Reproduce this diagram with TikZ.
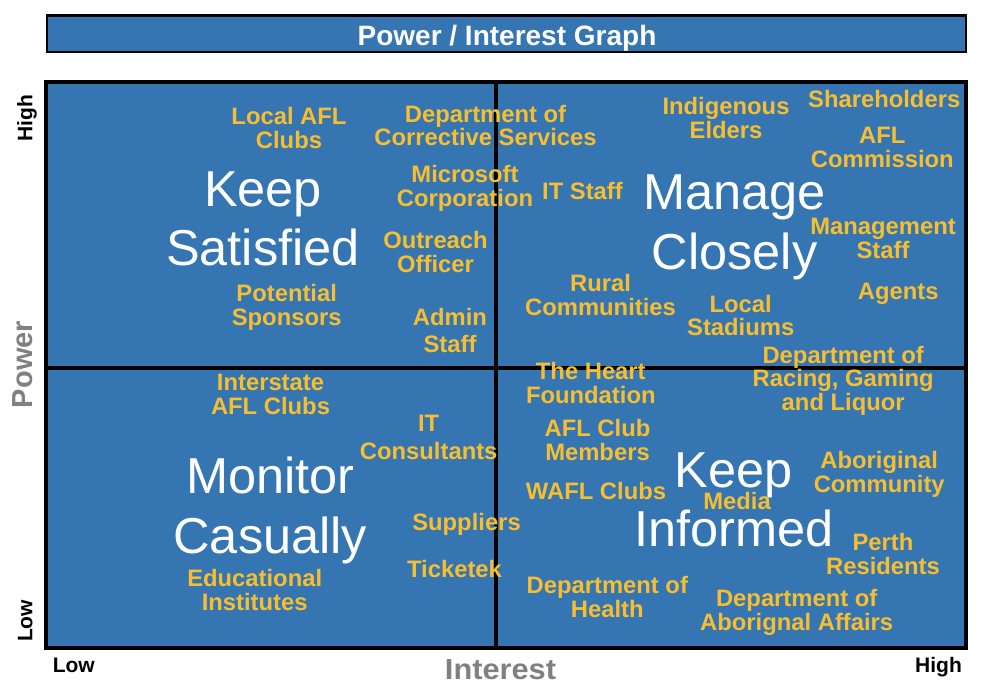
\documentclass[tikz,border=0pt]{standalone}
\usepackage{fontspec}
\setmainfont{Liberation Sans}
\definecolor{qblue}{RGB}{53,117,178}
\definecolor{qgold}{RGB}{247,190,48}
\definecolor{axgray}{RGB}{128,128,128}
\tikzset{
  lab/.style={text=qgold, font=\bfseries\fontsize{23.8}{23.8}\selectfont, align=center, inner sep=0pt, anchor=base},
  big/.style={text=white, font=\fontsize{50.5}{59.5}\selectfont, align=center, inner sep=0pt, anchor=base},
  axlab/.style={text=black, font=\bfseries\fontsize{21}{21}\selectfont, inner sep=0pt, anchor=base},
  axname/.style={text=axgray, font=\bfseries\fontsize{29}{29}\selectfont, inner sep=0pt, anchor=base},
  frame/.style={draw=black, line width=4pt},
  titlebox/.style={draw=black, line width=2.5pt, fill=qblue},
  titletext/.style={text=white, font=\bfseries\fontsize{28}{28}\selectfont, inner sep=0pt, anchor=base}
}
\begin{document}
\begin{tikzpicture}[x=1pt,y=-1pt]
\useasboundingbox (0,0) rectangle (990,692);
% title
\draw[titlebox] (47,15.5) rectangle (966,52);
\node[titletext] (title) at (507,46) {Power / Interest Graph};
% quadrant frame
\fill[qblue] (46,82) rectangle (966,648);
\draw[frame] (46,82) rectangle (966,648);
\draw[frame] (496,82) -- (496,648);
\draw[frame] (46,368) -- (966,368);
% axis labels
\node[axlab, rotate=90] (highL) at (32.3,118.3) {High};
\node[axlab, rotate=90] (lowL) at (32.3,621) {Low};
\node[axname, rotate=90] (power) at (32,364.5) {Power};
\node[axlab] (lowB) at (73.8,672.3) {Low};
\node[axlab] (highB) at (938.5,672.3) {High};
\node[axname, xscale=1.06] (interest) at (500.5,679.5) {Interest};
% top-left
\node[big] (keepsat) at (263,265.7) {Keep\\Satisfied};
\node[lab] (localafl) at (289,148.3) {Local AFL\\Clubs};
\node[lab] (potential) at (286.7,325.7) {Potential\\Sponsors};
\node[lab] (dcs) at (485.5,146) {Department of\\Corrective Services};
\node[lab] (microsoft) at (465,206.7) {Microsoft\\Corporation};
\node[lab] (outreach) at (435.5,272.3) {Outreach\\Officer};
\node[lab] (admin) at (450,352.7) {Admin\\[3pt]Staff};
% top-right
\node[big] (manage) at (734.5,269.3) {Manage\\Closely};
\node[lab] (itstaff) at (582.5,199.7) {IT Staff};
\node[lab] (indig) at (726,138.3) {Indigenous\\Elders};
\node[lab] (share) at (884.2,107.7) {Shareholders};
\node[lab] (aflcomm) at (882.3,167.7) {AFL\\Commission};
\node[lab] (mgmt) at (883,258.3) {Management\\Staff};
\node[lab] (agents) at (898.3,299.3) {Agents};
\node[lab] (rural) at (600.5,315.7) {Rural\\Communities};
\node[lab] (stadiums) at (740.7,336) {Local\\Stadiums};
\node[lab] (racing) at (843.2,410.7) {Department of\\Racing, Gaming\\and Liquor};
% bottom-left
\node[big] (monitor) at (270.3,553.3) {Monitor\\Casually};
\node[lab] (interstate) at (270.5,414) {Interstate\\AFL Clubs};
\node[lab] (itcons) at (428.7,459.3) {IT\\[4.5pt]Consultants};
\node[lab] (suppliers) at (466.5,530) {Suppliers};
\node[lab] (ticketek) at (454.5,577.3) {Ticketek};
\node[lab] (edu) at (254.7,610) {Educational\\Institutes};
% bottom-right
\node[big] (keepinf) at (733.8,546.7) {Keep\\Informed};
\node[lab] (heart) at (590.8,403.3) {The Heart\\Foundation};
\node[lab] (aflclub) at (597.5,460.7) {AFL Club\\Members};
\node[lab] (wafl) at (596,499.3) {WAFL Clubs};
\node[lab] (media) at (737,509) {Media};
\node[lab] (aborig) at (879.2,492.7) {Aboriginal\\Community};
\node[lab] (perth) at (883,574) {Perth\\Residents};
\node[lab] (health) at (607.3,617.3) {Department of\\Health};
\node[lab] (daa) at (796.7,630.7) {Department of\\Aborignal Affairs};
\end{tikzpicture}
\end{document}
